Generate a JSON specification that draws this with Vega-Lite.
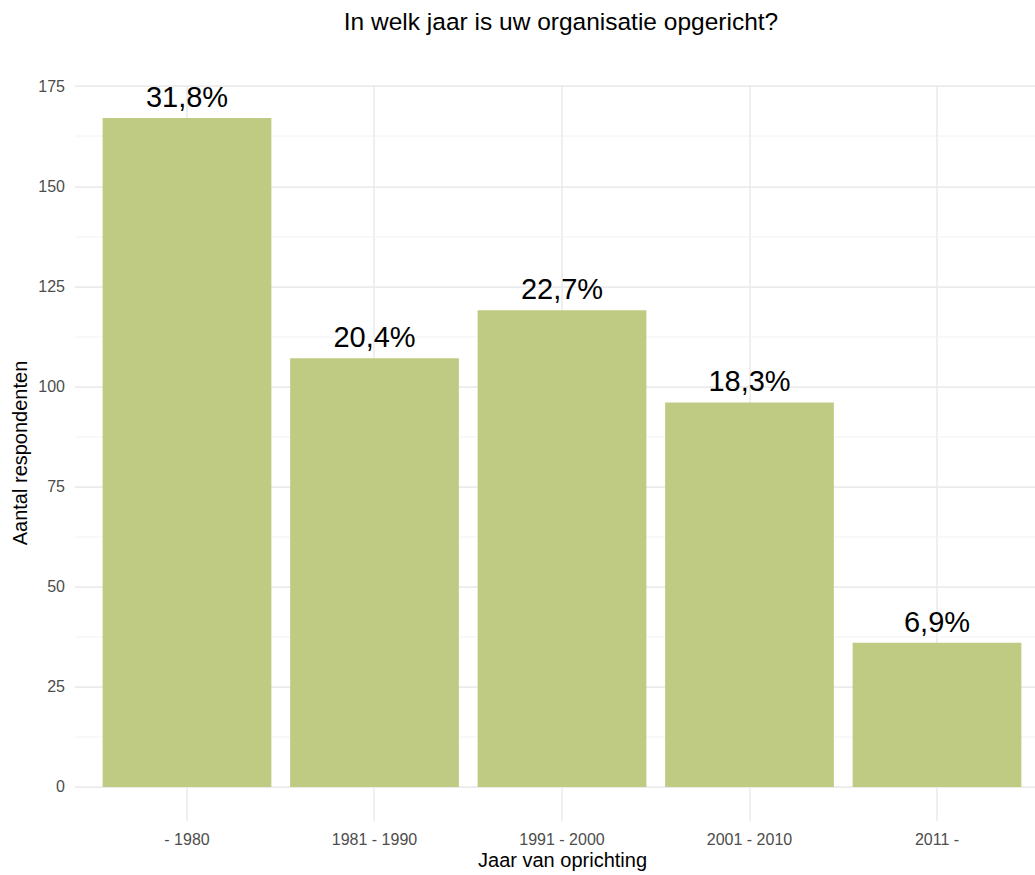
{
  "$schema": "https://vega.github.io/schema/vega-lite/v6.json",
  "autosize": {"type": "none"},
  "width": 960.5,
  "height": 735.8,
  "padding": {"left": 74.5, "top": 84.6, "right": 0, "bottom": 54.6},
  "background": "white",
  "title": {
    "text": "In welk jaar is uw organisatie opgericht?",
    "anchor": "middle",
    "frame": "group",
    "dx": 6.25,
    "fontSize": 24.5,
    "font": "Liberation Sans",
    "fontWeight": "normal",
    "color": "#000000",
    "offset": 43
  },
  "config": {
    "view": {"stroke": null},
    "axis": {
      "labelFont": "Liberation Sans",
      "titleFont": "Liberation Sans",
      "labelColor": "#4D4D4D",
      "labelFontSize": 16,
      "titleFontSize": 20,
      "titleFontWeight": "normal",
      "titleColor": "#000000",
      "domain": false,
      "ticks": false,
      "tickSize": 0
    }
  },
  "data": {
    "values": [
      {"jaar": "- 1980", "aantal": 167, "label": "31,8%"},
      {"jaar": "1981 - 1990", "aantal": 107, "label": "20,4%"},
      {"jaar": "1991 - 2000", "aantal": 119, "label": "22,7%"},
      {"jaar": "2001 - 2010", "aantal": 96, "label": "18,3%"},
      {"jaar": "2011 -", "aantal": 36, "label": "6,9%"}
    ]
  },
  "encoding": {
    "x": {
      "field": "jaar",
      "type": "nominal",
      "sort": null,
      "scale": {"range": [0, 975], "paddingInner": 0.1, "paddingOuter": 0.15},
      "axis": {
        "title": "Jaar van oprichting",
        "labelAngle": 0,
        "bandPosition": 0.5,
        "grid": true,
        "gridColor": "#EBEBEB",
        "gridWidth": 1.6,
        "labelPadding": 11,
        "titlePadding": 3
      }
    },
    "y": {
      "field": "aantal",
      "type": "quantitative",
      "scale": {"domain": [-8.35, 175.35], "nice": false, "zero": false},
      "axis": {
        "title": "Aantal respondenten",
        "values": [0, 12.5, 25, 37.5, 50, 62.5, 75, 87.5, 100, 112.5, 125, 137.5, 150, 162.5, 175],
        "labelExpr": "datum.value % 25 === 0 ? datum.label : ''",
        "grid": true,
        "gridColor": {"condition": {"test": "datum.value % 25 !== 0", "value": "#F1F1F1"}, "value": "#EBEBEB"},
        "gridWidth": {"condition": {"test": "datum.value % 25 !== 0", "value": 0.9}, "value": 1.6},
        "labelPadding": 10,
        "titlePadding": 7
      }
    }
  },
  "layer": [
    {
      "mark": {"type": "bar", "color": "#BFCB82"},
      "encoding": {"y": {"field": "aantal", "type": "quantitative"}, "y2": {"datum": 0}}
    },
    {
      "mark": {"type": "text", "font": "Liberation Sans", "fontSize": 29, "baseline": "alphabetic", "dy": -11, "color": "#000000"},
      "encoding": {"text": {"field": "label"}}
    }
  ]
}
